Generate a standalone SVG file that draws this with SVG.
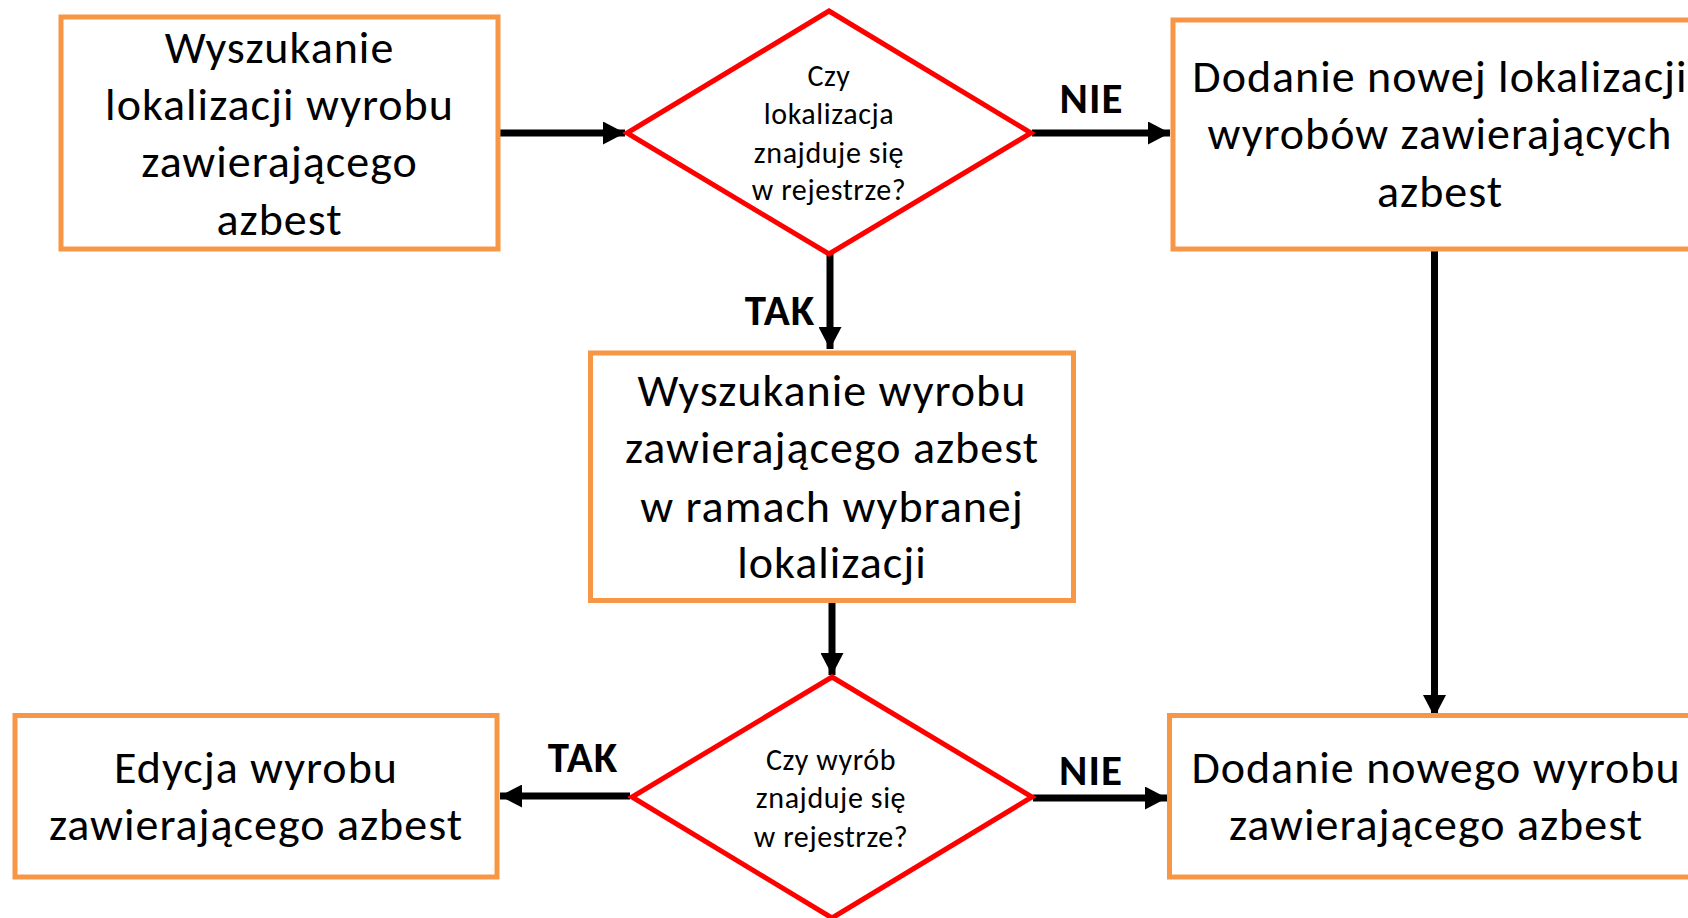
<svg xmlns="http://www.w3.org/2000/svg" width="1688" height="918" viewBox="0 0 1688 918">
<style>
.box{fill:#FFFFFF;stroke:#F79646;stroke-width:5}
.dia{fill:#FFFFFF;stroke:#FF0000;stroke-width:5;stroke-linejoin:miter;stroke-miterlimit:10}
.t{font-family:Carlito,Calibri,Lato,"Open Sans",sans-serif;font-size:46px;letter-spacing:1px;fill:#000000;text-anchor:middle}
.q{font-family:Carlito,Calibri,Lato,"Open Sans",sans-serif;font-size:30px;letter-spacing:0.6px;fill:#000000;text-anchor:middle}
.lbl{font-family:Carlito,Calibri,Lato,"Open Sans",sans-serif;font-size:43px;letter-spacing:1px;font-weight:bold;fill:#000000;text-anchor:middle}
.c{stroke:#000000;stroke-width:7;fill:none;marker-end:url(#ah)}
</style>
<defs>
<marker id="ah" markerUnits="userSpaceOnUse" markerWidth="22" markerHeight="23" refX="22" refY="11.5" orient="auto">
<path d="M0,0 L22,11.5 L0,23 Z" fill="#000000"/>
</marker>
</defs>
<rect x="0" y="0" width="1688" height="918" fill="#FFFFFF"/>
<g id="connectors">
<line class="c" x1="500" y1="133" x2="625" y2="133"/>
<line class="c" x1="1032" y1="133" x2="1170" y2="133"/>
<line class="c" x1="830" y1="254" x2="830" y2="349"/>
<line class="c" x1="1434.5" y1="251" x2="1434.5" y2="717"/>
<line class="c" x1="832" y1="602" x2="832" y2="675"/>
<line class="c" x1="630" y1="796" x2="500" y2="796"/>
<line class="c" x1="1033" y1="798" x2="1167" y2="798"/>
<text class="lbl" x="1091.5" y="113">NIE</text>
<text class="lbl" x="780" y="325">TAK</text>
<text class="lbl" x="583" y="772">TAK</text>
<text class="lbl" x="1091" y="785">NIE</text>
</g>
<g id="n1">
<rect class="box" x="61" y="17" width="437" height="232"/>
<text class="t" x="279.5" y="63">Wyszukanie</text>
<text class="t" x="279.5" y="120">lokalizacji wyrobu</text>
<text class="t" x="279.5" y="177">zawierającego</text>
<text class="t" x="279.5" y="235">azbest</text>
</g>
<g id="d1">
<polygon class="dia" points="829,11 1031,133 829,254 627,133"/>
<text class="q" x="829" y="86">Czy</text>
<text class="q" x="829" y="124">lokalizacja</text>
<text class="q" x="829" y="162.7">znajduje się</text>
<text class="q" x="829" y="200">w rejestrze?</text>
</g>
<g id="n2">
<rect class="box" x="1173" y="20" width="540" height="229"/>
<text class="t" x="1440" y="91.7">Dodanie nowej lokalizacji</text>
<text class="t" x="1440" y="149.3">wyrobów zawierających</text>
<text class="t" x="1440" y="207.3">azbest</text>
</g>
<g id="n3">
<rect class="box" x="590.5" y="353" width="483" height="247.5"/>
<text class="t" x="832" y="406">Wyszukanie wyrobu</text>
<text class="t" x="832" y="463.3">zawierającego azbest</text>
<text class="t" x="832" y="521.7">w ramach wybranej</text>
<text class="t" x="832" y="578.3">lokalizacji</text>
</g>
<g id="d2">
<polygon class="dia" points="832,677 1032,797 832,918 632,797"/>
<text class="q" x="831" y="770">Czy wyrób</text>
<text class="q" x="831" y="808.3">znajduje się</text>
<text class="q" x="831" y="846.7">w rejestrze?</text>
</g>
<g id="n4">
<rect class="box" x="1169.5" y="715.5" width="540" height="161.5"/>
<text class="t" x="1436" y="782.7">Dodanie nowego wyrobu</text>
<text class="t" x="1436" y="840">zawierającego azbest</text>
</g>
<g id="n5">
<rect class="box" x="15" y="715.5" width="482" height="161.5"/>
<text class="t" x="256" y="783.3">Edycja wyrobu</text>
<text class="t" x="256" y="840">zawierającego azbest</text>
</g>
</svg>
